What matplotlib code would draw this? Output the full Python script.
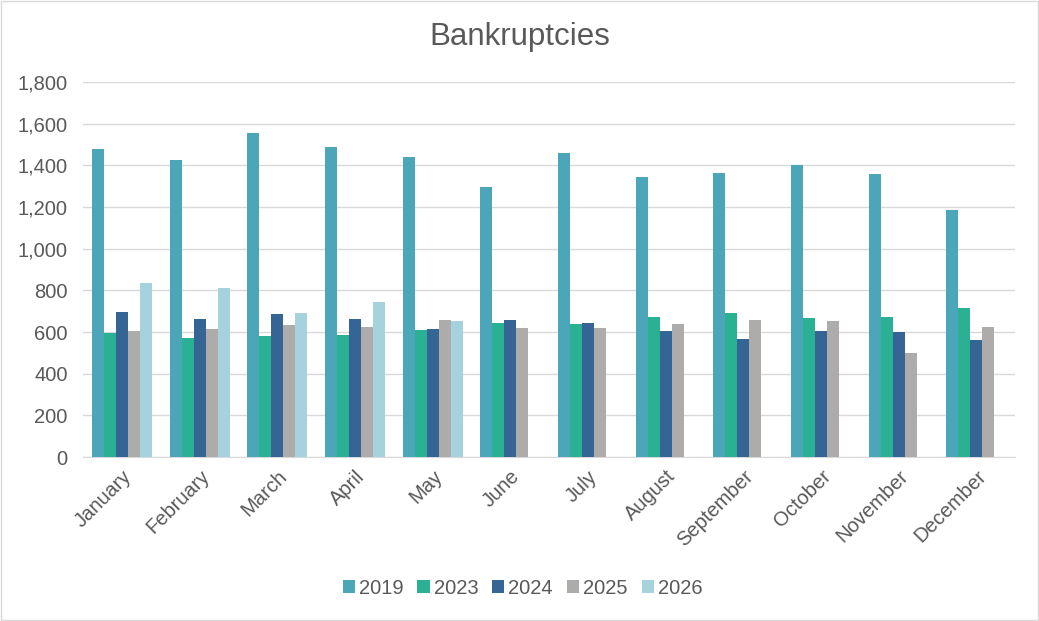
import matplotlib
matplotlib.use('Agg')
import matplotlib.pyplot as plt
import numpy as np

months = ['January', 'February', 'March', 'April', 'May', 'June', 'July',
          'August', 'September', 'October', 'November', 'December']
years = ['2019', '2023', '2024', '2025', '2026']

v2019 = [1476, 1426, 1554, 1488, 1438, 1296, 1459, 1344, 1363, 1400, 1360, 1187]
v2023 = [595, 571, 581, 586, 611, 643, 640, 670, 693, 669, 672, 715]
v2024 = [698, 661, 685, 661, 614, 659, 645, 605, 566, 606, 598, 563]
v2025 = [605, 616, 635, 624, 658, 618, 618, 638, 658, 654, 501, 624]
v2026 = [837, 811, 690, 742, 653, np.nan, np.nan, np.nan, np.nan, np.nan, np.nan, np.nan]

colors = ['#4BA6B9', '#2AB093', '#346595', '#AEABAB', '#A5D2DC']
text_color = '#595959'

plt.rcParams['font.family'] = ['Liberation Sans', 'DejaVu Sans']

fig = plt.figure(figsize=(10.39, 6.21), dpi=100)
ax = fig.add_axes([0.080, 0.264, 0.897, 0.604])

x = np.arange(len(months))
width = 0.155
series = [v2019, v2023, v2024, v2025, v2026]
for i, (vals, yr) in enumerate(zip(series, years)):
    ax.bar(x + (i - 2) * width, vals, width, color=colors[i], label=yr, zorder=3)

ax.set_xlim(-0.5, len(months) - 0.5)
ax.set_ylim(0, 1800)
ax.set_yticks(np.arange(0, 1801, 200))
ax.set_yticklabels([f'{v:,}' for v in range(0, 1801, 200)])
ax.set_xticks(x)
ax.set_xticklabels(months, rotation=45, ha='right', rotation_mode='anchor')

ax.grid(axis='y', color='#D9D9D9', linewidth=1, zorder=0)
for s in ['top', 'right', 'left']:
    ax.spines[s].set_visible(False)
ax.spines['bottom'].set_color('#D9D9D9')
ax.tick_params(axis='both', length=0, labelsize=14.5, colors=text_color)
ax.tick_params(axis='y', pad=11)
ax.tick_params(axis='x', pad=7)

fig.text(0.5, 0.94, 'Bankruptcies', ha='center', va='center', fontsize=22.5, color=text_color)

leg = fig.legend(loc='center', bbox_to_anchor=(0.503, 0.053), ncol=5, frameon=False,
                 fontsize=14.5, handlelength=0.6, handleheight=0.6, handletextpad=0.2,
                 columnspacing=0.7)
for t in leg.get_texts():
    t.set_color(text_color)

fig.patches.append(plt.Rectangle((0.001, 0.001), 0.998, 0.998, transform=fig.transFigure,
                                 fill=False, edgecolor='#D9D9D9', linewidth=1))

fig.savefig('out.png', dpi=100)
